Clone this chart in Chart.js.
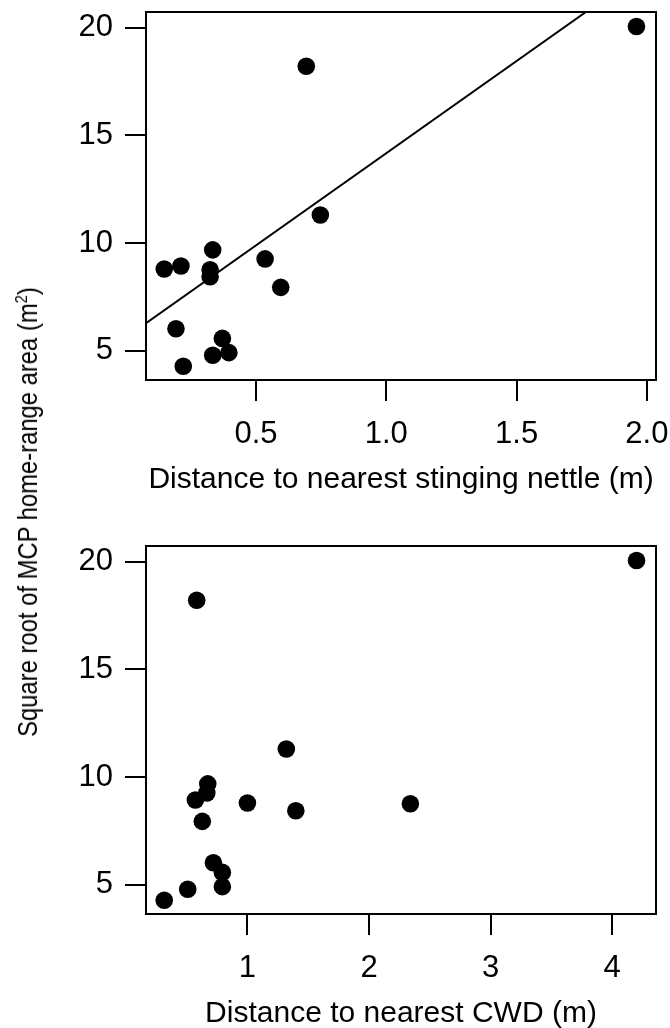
<!DOCTYPE html>
<html>
<head>
<meta charset="utf-8">
<script src="https://cdn.jsdelivr.net/npm/chart.js@4/dist/chart.umd.min.js"></script>
<style>
  html, body { margin: 0; padding: 0; background: #fff; width: 670px; height: 1028px; overflow: hidden; position: relative; }
  canvas { position: absolute; left: 0; }
  #nettleChart { top: 0; }
  #cwdChart { top: 534px; }
  #yTitle {
    position: absolute; left: 28px; top: 512px;
    transform: translate(-50%, -50%) rotate(-90deg) scaleX(0.85);
    white-space: nowrap; color: #000;
    font-family: "Liberation Sans", Arial, sans-serif; font-size: 28px;
  }
  #yTitle sup { font-size: 0.62em; line-height: 0; vertical-align: 0.55em; }
</style>
</head>
<body>
<canvas id="nettleChart" width="670" height="520"></canvas>
<canvas id="cwdChart" width="670" height="520"></canvas>
<div id="yTitle">Square root of MCP home-range area (m<sup>2</sup>)</div>
<script>
// same 15 animals in both panels
const sqrtArea = [20.05, 18.2, 11.3, 9.68, 9.26, 8.93, 8.79, 8.76, 8.43, 7.94, 6.02, 5.57, 4.91, 4.79, 4.28];
const nettleDist = [1.96, 0.693, 0.747, 0.334, 0.535, 0.212, 0.148, 0.324, 0.324, 0.595, 0.193, 0.371, 0.396, 0.334, 0.221];
const cwdDist = [4.2, 0.583, 1.32, 0.674, 0.666, 0.572, 1.0, 2.34, 1.398, 0.629, 0.72, 0.794, 0.794, 0.509, 0.316];

// fitted line, end points
const fitX = [0.078, 1.766];
const fitY = [6.28, 20.72];

const yTicks = [5, 10, 15, 20];
const nettleTicks = [0.5, 1.0, 1.5, 2.0];
const cwdTicks = [1, 2, 3, 4];

const FONT = "'Liberation Sans', Arial, sans-serif";

function toPoints(xs, ys) {
  return xs.map((x, i) => ({ x, y: ys[i] }));
}

const boxPlugin = {
  id: "box",
  afterDraw(chart) {
    const { ctx, chartArea: a } = chart;
    ctx.save();
    ctx.strokeStyle = "#000";
    ctx.lineWidth = 2;
    ctx.strokeRect(a.left, a.top, a.right - a.left, a.bottom - a.top);
    ctx.restore();
  },
};

function makeChart(canvas, xs, xMin, xMax, xTicks, digits, xTitle, withFit) {
  const datasets = [
    {
      type: "scatter",
      data: toPoints(xs, sqrtArea),
      pointRadius: 8.8,
      pointBorderWidth: 0,
      pointBackgroundColor: "#000",
      pointHoverRadius: 8.8,
    },
  ];
  if (withFit) {
    datasets.push({
      type: "line",
      data: toPoints(fitX, fitY),
      borderColor: "#000",
      borderWidth: 2,
      pointRadius: 0,
      fill: false,
      clip: 0,
    });
  }

  return new Chart(canvas, {
    type: "scatter",
    data: { datasets },
    plugins: [boxPlugin],
    options: {
      responsive: false,
      animation: false,
      events: [],
      layout: { padding: { top: 12, right: 14, left: 0, bottom: 0 } },
      plugins: { legend: { display: false }, tooltip: { enabled: false } },
      scales: {
        x: {
          type: "linear",
          min: xMin,
          max: xMax,
          afterBuildTicks: (s) => {
            s.ticks = xTicks.map((v) => ({ value: v }));
          },
          afterFit: (s) => {
            s.height = 140;
            s.paddingLeft = 0;
            s.paddingRight = 0;
          },
          border: { display: false },
          grid: { drawOnChartArea: false, drawTicks: true, tickLength: 21, color: "#000", lineWidth: 2 },
          ticks: {
            color: "#000",
            font: { family: FONT, size: 31 },
            padding: 15,
            maxRotation: 0,
            autoSkip: false,
            callback: (v) => v.toFixed(digits),
          },
          title: {
            display: true,
            text: xTitle,
            color: "#000",
            font: { family: FONT, size: 30 },
            padding: { top: 0, bottom: 22 },
          },
        },
        y: {
          type: "linear",
          min: 3.64,
          max: 20.72,
          afterBuildTicks: (s) => {
            s.ticks = yTicks.map((v) => ({ value: v }));
          },
          afterFit: (s) => {
            s.width = 146;
            s.paddingTop = 0;
            s.paddingBottom = 0;
          },
          border: { display: false },
          grid: { drawOnChartArea: false, drawTicks: true, tickLength: 21, color: "#000", lineWidth: 2 },
          ticks: {
            color: "#000",
            font: { family: FONT, size: 31 },
            padding: 12,
            autoSkip: false,
            callback: (v) => String(v),
          },
        },
      },
    },
  });
}

makeChart(document.getElementById("nettleChart"), nettleDist, 0.078, 2.035, nettleTicks, 1,
  "Distance to nearest stinging nettle (m)", true);
makeChart(document.getElementById("cwdChart"), cwdDist, 0.166, 4.36, cwdTicks, 0,
  "Distance to nearest CWD (m)", false);
</script>
</body>
</html>
